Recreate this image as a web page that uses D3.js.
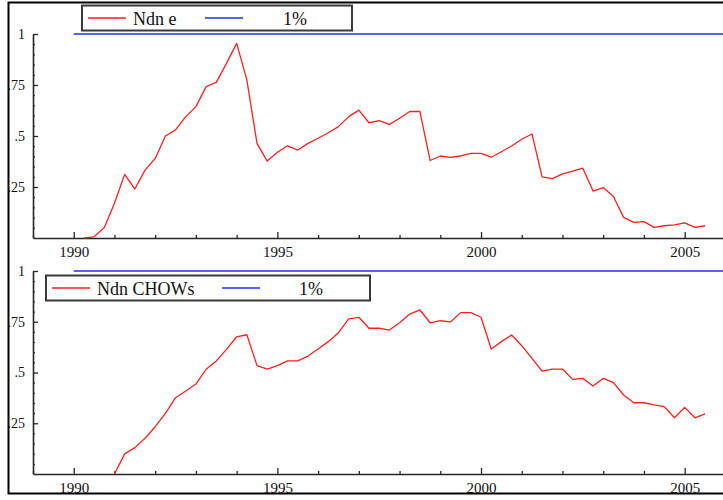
<!DOCTYPE html>
<html>
<head>
<meta charset="utf-8">
<script src="https://cdn.jsdelivr.net/npm/d3@7"></script>
<style>
  html, body { margin: 0; padding: 0; background: #ffffff; }
  svg { display: block; }
  text { font-family: "Liberation Serif", "Times New Roman", serif; fill: #111; }
</style>
</head>
<body>
<svg id="chart" width="723" height="500"></svg>
<script>
// Quarterly observations; first quarter of each series given by its start year.
const ndnEStart = 1990.25;
const ndnE = [
  0.000, 0.006, 0.052, 0.170, 0.312, 0.240, 0.333, 0.390,
  0.500, 0.530, 0.595, 0.644, 0.742, 0.763, 0.856, 0.954,
  0.775, 0.464, 0.377, 0.420, 0.452, 0.431, 0.464, 0.489,
  0.516, 0.546, 0.595, 0.627, 0.565, 0.575, 0.557, 0.587,
  0.620, 0.620, 0.380, 0.402, 0.395, 0.402, 0.415, 0.415,
  0.396, 0.423, 0.451, 0.484, 0.510, 0.300, 0.291, 0.314,
  0.328, 0.342, 0.230, 0.247, 0.203, 0.101, 0.077, 0.080,
  0.052, 0.060, 0.064, 0.074, 0.052, 0.060
];

const ndnChowsStart = 1991.0;
const ndnChows = [
  0.000, 0.099, 0.130, 0.176, 0.233, 0.299, 0.376, 0.409,
  0.443, 0.516, 0.557, 0.614, 0.676, 0.686, 0.534, 0.517,
  0.534, 0.557, 0.557, 0.581, 0.616, 0.652, 0.696, 0.764,
  0.772, 0.718, 0.718, 0.709, 0.745, 0.788, 0.808, 0.745,
  0.755, 0.749, 0.795, 0.795, 0.772, 0.616, 0.652, 0.685,
  0.632, 0.570, 0.507, 0.517, 0.517, 0.466, 0.471, 0.433,
  0.471, 0.450, 0.389, 0.351, 0.351, 0.340, 0.332, 0.277,
  0.328, 0.277, 0.296
];

// 1% critical value reference line
const refYears = [1990, 2006];
const refValues = [1, 1];

const xTickYears = [1990, 1995, 2000, 2005];
const xMinorYears = [1989, 1991, 1992, 1993, 1994, 1996, 1997, 1998, 1999, 2001, 2002, 2003, 2004, 2006];
const yTickValues = [0.25, 0.5, 0.75, 1];
const yTickLabels = [".25", ".5", ".75", "1"];
const yMinorValues = [0.05, 0.1, 0.15, 0.2, 0.3, 0.35, 0.4, 0.45, 0.55, 0.6, 0.65, 0.7, 0.8, 0.85, 0.9, 0.95];

const legendTop = ["Ndn e", "1%"];
const legendBottom = ["Ndn CHOWs", "1%"];

const RED = "#ff1f1f";
const BLUE = "#2030f0";
const AXIS = "#262626";

const svg = d3.select("#chart");

// outer frame
svg.append("rect")
  .attr("x", 8.5).attr("y", 2.5).attr("width", 720).attr("height", 491)
  .attr("fill", "#ffffff").attr("stroke", "#000").attr("stroke-width", 2);

const x = d3.scaleLinear().domain([1989, 2006]).range([33, 725.4]);

function toPoints(start, values) {
  return values.map((v, i) => ({ t: start + i * 0.25, v }));
}

function panel(opts) {
  const y = d3.scaleLinear().domain([0, 1]).range([opts.bottom, opts.top]);
  const g = svg.append("g");

  // x axis: major labelled ticks every 5 years, minor every year, pointing up
  g.append("g")
    .attr("transform", `translate(0,${opts.bottom})`)
    .call(d3.axisBottom(x).tickValues(xTickYears).tickFormat(d3.format("d"))
      .tickSizeInner(-6).tickSizeOuter(0).tickPadding(8))
    .call(a => {
      a.select(".domain").attr("stroke", AXIS).attr("stroke-width", 1.6);
      a.selectAll(".tick line").attr("stroke", AXIS).attr("stroke-width", 1.3);
      a.selectAll("text").attr("font-size", 15).attr("fill", "#111")
        .attr("font-family", "Liberation Serif");
    });
  g.append("g")
    .attr("transform", `translate(0,${opts.bottom})`)
    .call(d3.axisBottom(x).tickValues(xMinorYears).tickFormat("")
      .tickSizeInner(-3).tickSizeOuter(0))
    .call(a => {
      a.select(".domain").remove();
      a.selectAll(".tick line").attr("stroke", AXIS).attr("stroke-width", 1.3);
    });

  // y axis
  g.append("g")
    .attr("transform", `translate(33,0)`)
    .call(d3.axisLeft(y).tickValues(yTickValues)
      .tickFormat((d, i) => yTickLabels[i])
      .tickSizeInner(-5).tickSizeOuter(0).tickPadding(8))
    .call(a => {
      a.select(".domain").attr("stroke", AXIS).attr("stroke-width", 1.6);
      a.selectAll(".tick line").attr("stroke", AXIS).attr("stroke-width", 1.3);
      a.selectAll("text").attr("font-size", 14).attr("fill", "#111")
        .attr("font-family", "Liberation Serif");
    });
  g.append("g")
    .attr("transform", `translate(33,0)`)
    .call(d3.axisLeft(y).tickValues(yMinorValues).tickFormat("")
      .tickSizeInner(-2).tickSizeOuter(0))
    .call(a => {
      a.select(".domain").remove();
      a.selectAll(".tick line").attr("stroke", AXIS).attr("stroke-width", 1);
    });

  const line = d3.line().x(d => x(d.t)).y(d => y(d.v));

  // 1% reference line
  g.append("path")
    .datum(refYears.map((t, i) => ({ t, v: refValues[i] })))
    .attr("d", line).attr("fill", "none")
    .attr("stroke", BLUE).attr("stroke-width", 1.5);

  // statistic series
  g.append("path")
    .datum(toPoints(opts.start, opts.values))
    .attr("d", line).attr("fill", "none")
    .attr("stroke", RED).attr("stroke-width", 1.3)
    .attr("stroke-linejoin", "round");

  // legend box
  const L = opts.legend;
  const lg = g.append("g");
  lg.append("rect")
    .attr("x", L.x).attr("y", L.y).attr("width", L.w).attr("height", L.h)
    .attr("fill", "#ffffff").attr("stroke", "#3a3a3a").attr("stroke-width", 2);
  const cy = L.y + L.h / 2;
  lg.append("line").attr("x1", L.x + 6).attr("x2", L.x + 44)
    .attr("y1", cy).attr("y2", cy).attr("stroke", RED).attr("stroke-width", 1.3);
  lg.append("text").attr("x", L.x + 51).attr("y", cy + 6.5)
    .attr("font-size", 18).text(L.labels[0]);
  lg.append("line").attr("x1", L.blueX).attr("x2", L.blueX + 38)
    .attr("y1", cy).attr("y2", cy).attr("stroke", BLUE).attr("stroke-width", 1.5);
  lg.append("text").attr("x", L.pctX).attr("y", cy + 6.5)
    .attr("font-size", 18).text(L.labels[1]);
}

panel({
  top: 34, bottom: 238, start: ndnEStart, values: ndnE,
  legend: { x: 82, y: 5.5, w: 270, h: 25, blueX: 205, pctX: 283, labels: legendTop }
});

panel({
  top: 271, bottom: 474, start: ndnChowsStart, values: ndnChows,
  legend: { x: 46, y: 275.5, w: 324, h: 25, blueX: 222, pctX: 299, labels: legendBottom }
});
</script>
</body>
</html>
